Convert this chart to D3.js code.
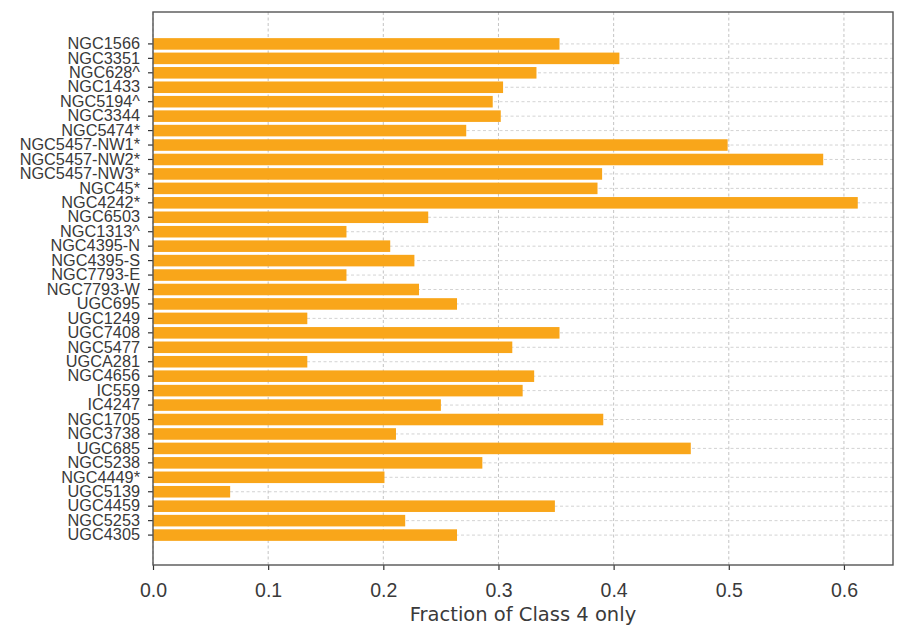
<!DOCTYPE html>
<html>
<head>
<meta charset="utf-8">
<script src="https://cdn.jsdelivr.net/npm/d3@7"></script>
<style>
  body { margin: 0; background: #fff; }
  svg { display: block; font-family: "DejaVu Sans", sans-serif; }
</style>
</head>
<body>
<svg width="897" height="627"></svg>
<script>
const galaxies = [
    "NGC1566", "NGC3351", "NGC628^", "NGC1433", "NGC5194^", "NGC3344", "NGC5474*",
    "NGC5457-NW1*", "NGC5457-NW2*", "NGC5457-NW3*", "NGC45*", "NGC4242*", "NGC6503",
    "NGC1313^", "NGC4395-N", "NGC4395-S", "NGC7793-E", "NGC7793-W", "UGC695", "UGC1249",
    "UGC7408", "NGC5477", "UGCA281", "NGC4656", "IC559", "IC4247", "NGC1705", "NGC3738",
    "UGC685", "NGC5238", "NGC4449*", "UGC5139", "UGC4459", "NGC5253", "UGC4305"
];
const fraction = [
    0.353, 0.405, 0.333, 0.304, 0.295, 0.302, 0.272,
    0.499, 0.582, 0.390, 0.386, 0.612, 0.239,
    0.168, 0.206, 0.227, 0.168, 0.231, 0.264, 0.134,
    0.353, 0.312, 0.134, 0.331, 0.321, 0.250, 0.391, 0.211,
    0.467, 0.286, 0.201, 0.067, 0.349, 0.219, 0.264
];
const xTicks = [0.0, 0.1, 0.2, 0.3, 0.4, 0.5, 0.6];
const xLabel = "Fraction of Class 4 only";

const area = { left: 153, right: 893, top: 12, bottom: 565 };

const svg = d3.select("svg");
const data = galaxies.map((name, i) => ({ name, value: fraction[i] }));

const scaleX = d3.scaleLinear()
    .domain([0, d3.max(fraction) * 1.05])
    .range([area.left, area.right]);

const scaleY = d3.scaleBand()
    .domain(galaxies)
    .range([area.top + 1, area.bottom + 1])
    .paddingInner(0.2)
    .paddingOuter(1.74);

// grid
svg.append("g")
    .selectAll("line")
    .data(galaxies)
    .enter()
    .append("line")
    .attr("x1", area.left)
    .attr("x2", area.right)
    .attr("y1", d => scaleY(d) + scaleY.bandwidth() / 2)
    .attr("y2", d => scaleY(d) + scaleY.bandwidth() / 2)
    .attr("stroke", "#c8c8c8")
    .attr("stroke-width", 0.8)
    .attr("stroke-dasharray", "3,2.5");

svg.append("g")
    .selectAll("line")
    .data(xTicks)
    .enter()
    .append("line")
    .attr("x1", d => scaleX(d))
    .attr("x2", d => scaleX(d))
    .attr("y1", area.top)
    .attr("y2", area.bottom)
    .attr("stroke", "#b4b4b4")
    .attr("stroke-width", 0.8)
    .attr("stroke-dasharray", "3,2.5");

// bars
svg.append("g")
    .selectAll("rect")
    .data(data)
    .enter()
    .append("rect")
    .attr("x", scaleX(0))
    .attr("y", d => scaleY(d.name))
    .attr("width", d => scaleX(d.value) - scaleX(0))
    .attr("height", scaleY.bandwidth())
    .attr("fill", "#f9a61a");

// axes
const axisX = d3.axisBottom(scaleX)
    .tickValues(xTicks)
    .tickFormat(d3.format(".1f"))
    .tickSizeInner(5)
    .tickSizeOuter(0)
    .tickPadding(13);

const gx = svg.append("g")
    .attr("transform", `translate(0, ${area.bottom})`)
    .call(axisX);
gx.select(".domain").remove();
gx.selectAll("line").attr("stroke", "#333").attr("stroke-width", 1.2);
gx.selectAll("text")
    .attr("fill", "#3a3a3a")
    .style("font-size", "19.5px");

const axisY = d3.axisLeft(scaleY)
    .tickSizeInner(5)
    .tickSizeOuter(0)
    .tickPadding(8);

const gy = svg.append("g")
    .attr("transform", `translate(${area.left}, 0)`)
    .call(axisY);
gy.select(".domain").remove();
gy.selectAll("line").attr("stroke", "#333").attr("stroke-width", 1.2);
gy.selectAll("text")
    .attr("fill", "#3a3a3a")
    .style("font-size", "16.3px");

// frame
svg.append("rect")
    .attr("x", area.left)
    .attr("y", area.top)
    .attr("width", area.right - area.left)
    .attr("height", area.bottom - area.top)
    .attr("fill", "none")
    .attr("stroke", "#555")
    .attr("stroke-width", 1.4);

svg.append("text")
    .attr("x", (area.left + area.right) / 2)
    .attr("y", 621)
    .attr("text-anchor", "middle")
    .attr("fill", "#3a3a3a")
    .style("font-size", "19.5px")
    .text(xLabel);
</script>
</body>
</html>
